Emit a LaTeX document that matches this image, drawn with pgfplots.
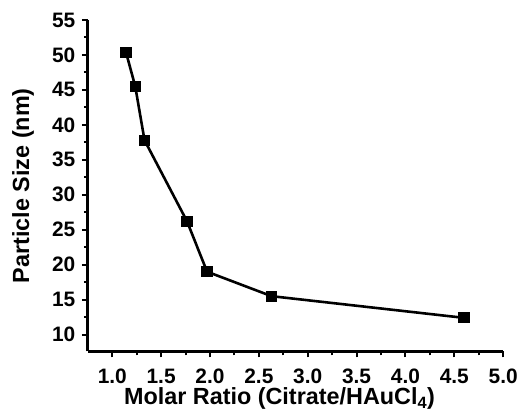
\documentclass[border=0pt]{standalone}
\usepackage{fontspec}
\setmainfont{Liberation Sans}
\usepackage{pgfplots}
\pgfplotsset{compat=1.18}
\begin{document}
\begin{tikzpicture}[x=1bp,y=1bp]
\begin{axis}[
    name=ax,
    scale only axis,
    width=416bp, height=332bp,
    xmin=0.75, xmax=5.0,
    ymin=7.6, ymax=55,
    axis x line*=bottom, axis y line*=left,
    axis line style={line width=2.8bp},
    xtick={1.0,1.5,...,5.0},
    ytick={10,15,...,55},
    minor x tick num=1, minor y tick num=1,
    tick align=outside,
    major tick length=6bp, minor tick length=4bp,
    tick style={line width=2bp, black},
    /pgf/number format/assume math mode=true,
    xticklabel style={/pgf/number format/fixed, /pgf/number format/fixed zerofill,
        /pgf/number format/precision=1, yshift=-8bp},
    yticklabel style={xshift=-3bp},
    ticklabel style={font=\fontsize{21}{22}\selectfont\bfseries},
    xlabel={Molar Ratio (Citrate/HAuCl\textsubscript{4})},
    ylabel={Particle Size (nm)},
    label style={font=\fontsize{23.5}{25}\selectfont\bfseries},
    xlabel style={at={(axis description cs:0.4615,-0.1416)}, anchor=center},
    ylabel style={at={(axis description cs:-0.156,0.5)}, anchor=center},
    clip=false,
]
\addplot[black, line width=2.6bp, mark=square*, mark size=4.3bp,
    mark options={solid, fill=black}]
coordinates {
(1.14,50.4)
(1.235,45.5)
(1.33,37.8)
(1.765,26.2)
(1.97,19.0)
(2.63,15.5)
(4.60,12.4)
};
\end{axis}
\path ([shift={(-88bp,-61bp)}]ax.south west) rectangle ([shift={(17bp,20bp)}]ax.north east);
\end{tikzpicture}
\end{document}
